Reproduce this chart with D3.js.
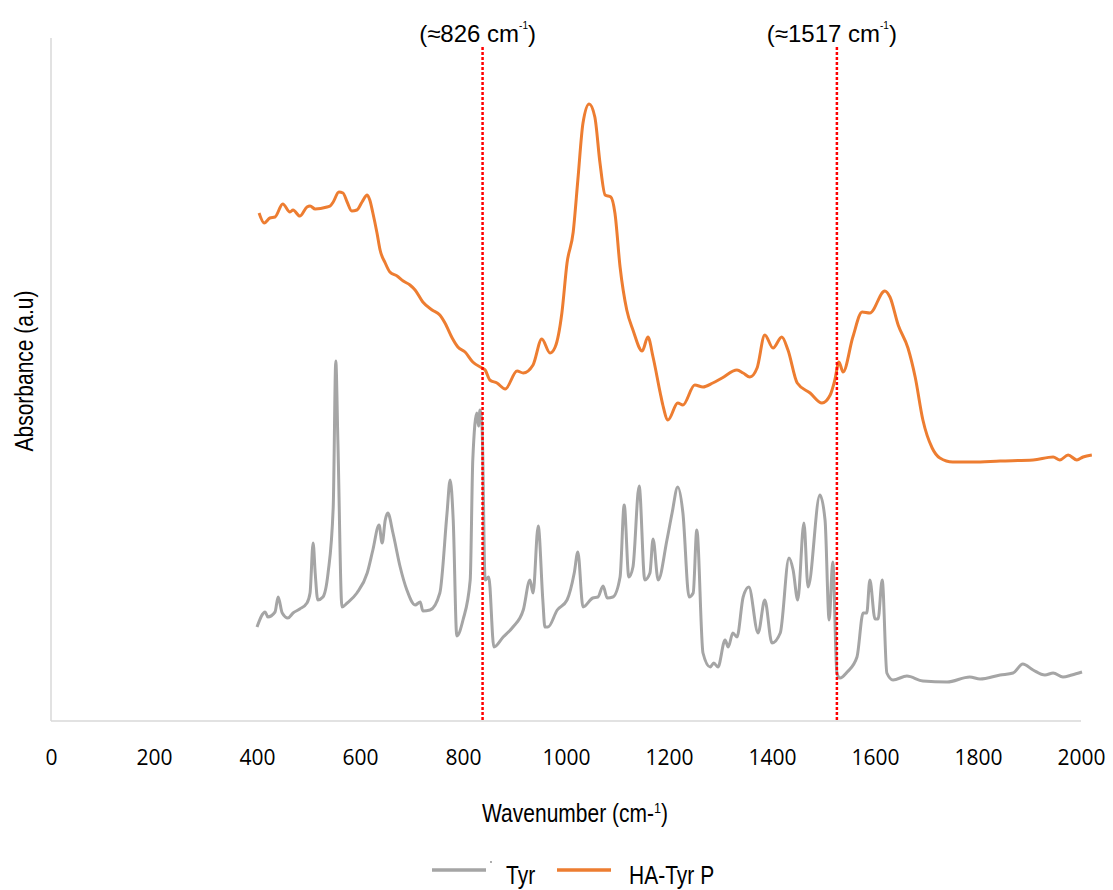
<!DOCTYPE html>
<html>
<head>
<meta charset="utf-8">
<script src="https://cdn.jsdelivr.net/npm/d3@7"></script>
<style>
  html, body { margin: 0; padding: 0; background: #fff; }
  svg { display: block; }
</style>
</head>
<body>
<svg id="chart" width="1113" height="890"></svg>
<script>
// ---------------- DATA ----------------
const xTicks = [0, 200, 400, 600, 800, 1000, 1200, 1400, 1600, 1800, 2000];
const seriesNames = ["Tyr", "HA-Tyr P"];
const markerWavenumbers = [838, 1526];
const markerLabels = ["(≈826 cm", "(≈1517 cm"];

const tyrWavenumber = [400,416,421,435,441,449,460,470,483,497,503,509,513,518,528,538,548,553,557,565,575,594,614,625,637,643,649,654,664,678,691,707,717,722,736,755,769,775,781,788,800,814,819,827,830,833,837,843,850,860,878,897,917,930,936,946,955,959,965,983,1002,1016,1023,1033,1052,1062,1072,1080,1091,1105,1113,1122,1130,1142,1153,1163,1169,1179,1196,1206,1217,1227,1239,1247,1254,1266,1280,1287,1295,1309,1315,1324,1332,1344,1355,1373,1386,1400,1416,1433,1441,1450,1462,1470,1493,1503,1511,1518,1526,1532,1546,1565,1577,1584,1590,1600,1606,1614,1623,1635,1662,1693,1740,1784,1804,1843,1868,1887,1907,1930,1946,1965,1982,2002];
const tyrAbsorbance = [0.188,0.218,0.208,0.218,0.248,0.216,0.206,0.216,0.224,0.236,0.256,0.356,0.296,0.242,0.248,0.296,0.428,0.720,0.562,0.228,0.236,0.256,0.296,0.342,0.392,0.356,0.402,0.416,0.376,0.308,0.262,0.232,0.238,0.220,0.222,0.256,0.416,0.482,0.402,0.170,0.202,0.282,0.522,0.616,0.590,0.622,0.588,0.282,0.288,0.148,0.168,0.188,0.222,0.282,0.256,0.390,0.242,0.188,0.188,0.222,0.242,0.296,0.338,0.228,0.246,0.248,0.270,0.246,0.248,0.288,0.432,0.288,0.308,0.470,0.282,0.296,0.364,0.282,0.362,0.416,0.468,0.416,0.248,0.256,0.382,0.136,0.108,0.116,0.108,0.162,0.148,0.176,0.168,0.248,0.268,0.176,0.242,0.156,0.176,0.326,0.302,0.242,0.396,0.268,0.452,0.402,0.202,0.318,0.096,0.086,0.098,0.128,0.216,0.216,0.282,0.204,0.204,0.282,0.096,0.082,0.090,0.080,0.078,0.088,0.084,0.092,0.096,0.114,0.102,0.092,0.096,0.088,0.092,0.098];

const haWavenumber = [404,414,425,435,450,464,470,483,497,503,513,536,542,548,559,567,575,584,594,604,614,619,625,633,639,649,658,672,684,697,707,722,740,755,765,779,790,804,819,837,843,852,866,882,905,917,936,953,969,979,992,1002,1014,1023,1033,1045,1056,1066,1076,1087,1095,1105,1118,1130,1148,1159,1169,1183,1188,1198,1217,1227,1250,1266,1285,1303,1332,1344,1357,1371,1386,1402,1419,1431,1449,1474,1497,1513,1522,1530,1538,1557,1575,1590,1619,1629,1645,1664,1678,1693,1711,1726,1751,1790,1843,1907,1946,1959,1975,1992,2004,2021];
const haAbsorbance = [1.016,0.996,1.006,1.008,1.034,1.018,1.022,1.010,1.028,1.030,1.024,1.028,1.030,1.038,1.058,1.056,1.038,1.020,1.022,1.038,1.052,1.042,1.016,0.976,0.942,0.916,0.898,0.890,0.880,0.872,0.862,0.838,0.822,0.812,0.796,0.766,0.748,0.738,0.718,0.706,0.702,0.682,0.676,0.664,0.700,0.696,0.712,0.764,0.736,0.748,0.816,0.916,0.978,1.082,1.196,1.234,1.208,1.116,1.052,1.048,1.016,0.908,0.822,0.782,0.740,0.768,0.728,0.656,0.632,0.602,0.636,0.632,0.672,0.668,0.676,0.686,0.702,0.696,0.688,0.706,0.772,0.746,0.768,0.742,0.676,0.656,0.636,0.652,0.682,0.718,0.698,0.768,0.818,0.816,0.860,0.848,0.792,0.746,0.688,0.602,0.546,0.526,0.518,0.518,0.520,0.522,0.528,0.522,0.532,0.522,0.528,0.532];

const seriesColors = ["#a5a5a5", "#ed7d31"];

// ---------------- CHART ----------------
const svg = d3.select("#chart");
const x = d3.scaleLinear().domain([0, 2000]).range([51, 1081]);
const y = d3.scaleLinear().domain([0, 1.366]).range([721, 38]);

const sans = "'Liberation Sans', Arial, sans-serif";
const squeeze = 0.84;

// axes lines
svg.append("line").attr("x1", x(0)).attr("x2", x(0)).attr("y1", y(1.366)).attr("y2", y(0))
  .attr("stroke", "#d9d9d9").attr("stroke-width", 1.5);
svg.append("line").attr("x1", x(0)).attr("x2", x(2000)).attr("y1", y(0)).attr("y2", y(0))
  .attr("stroke", "#d9d9d9").attr("stroke-width", 1.5);

// x tick labels
const xAxis = d3.axisBottom(x).tickValues(xTicks).tickSize(0).tickPadding(29).tickFormat(d3.format("d"));
const gx = svg.append("g").attr("transform", `translate(0,${y(0)})`).call(xAxis);
gx.select(".domain").remove();
gx.selectAll("text").attr("font-family", "'Open Sans', 'Liberation Sans', sans-serif")
  .attr("font-size", 21).attr("fill", "#000");

// series
const tyr = tyrWavenumber.map((w, i) => ({ w, a: tyrAbsorbance[i] }));
const ha = haWavenumber.map((w, i) => ({ w, a: haAbsorbance[i] }));
const line = d3.line().x(d => x(d.w)).y(d => y(d.a)).curve(d3.curveMonotoneX);

svg.append("path").datum(tyr).attr("d", line).attr("fill", "none")
  .attr("stroke", seriesColors[0]).attr("stroke-width", 3).attr("stroke-linejoin", "round");
svg.append("path").datum(ha).attr("d", line).attr("fill", "none")
  .attr("stroke", seriesColors[1]).attr("stroke-width", 3).attr("stroke-linejoin", "round");

// marker lines + labels
markerWavenumbers.forEach((w, i) => {
  svg.append("line").attr("x1", x(w)).attr("x2", x(w)).attr("y1", 47).attr("y2", y(0))
    .attr("stroke", "#ff0000").attr("stroke-width", 2.5).attr("stroke-dasharray", "3,2");
  const t = svg.append("text").attr("x", x(w) - 5).attr("y", 42)
    .attr("text-anchor", "middle").attr("font-family", sans)
    .attr("font-size", 24).attr("fill", "#000");
  t.append("tspan").text(markerLabels[i]);
  t.append("tspan").attr("font-size", 10).attr("dy", -13).text("-1");
  t.append("tspan").attr("dy", 13).text(")");
});

// axis titles
const xt = svg.append("text").attr("transform", `translate(575,822) scale(${squeeze},1)`)
  .attr("text-anchor", "middle").attr("font-family", sans).attr("font-size", 25).attr("fill", "#000");
xt.append("tspan").text("Wavenumber  (cm-");
xt.append("tspan").attr("font-size", 15).attr("dy", -9).text("1");
xt.append("tspan").attr("dy", 9).text(")");

svg.append("text").attr("transform", `translate(33,371) rotate(-90) scale(${squeeze},1)`).attr("text-anchor", "middle")
  .attr("font-family", sans).attr("font-size", 25).attr("fill", "#000").text("Absorbance  (a.u)");

// legend
const legendX = [432, 557];
const legendTextX = [506, 629];
seriesNames.forEach((name, i) => {
  svg.append("line").attr("x1", legendX[i]).attr("x2", legendX[i] + 54).attr("y1", 870).attr("y2", 870)
    .attr("stroke", seriesColors[i]).attr("stroke-width", 3.5);
  svg.append("text").attr("transform", `translate(${legendTextX[i]},884) scale(${squeeze},1)`)
    .attr("font-family", sans).attr("font-size", 25).attr("fill", "#000").text(name);
});
svg.append("circle").attr("cx", 491).attr("cy", 862).attr("r", 0.9).attr("fill", "#888");
</script>
</body>
</html>
